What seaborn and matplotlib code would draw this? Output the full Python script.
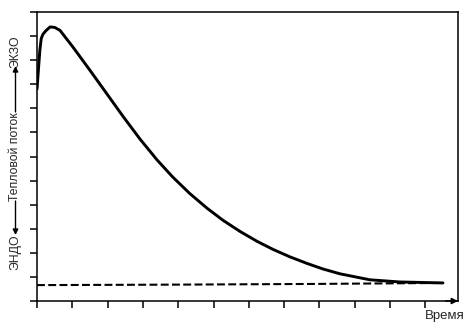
import matplotlib
matplotlib.use("Agg")
import matplotlib.pyplot as plt
import seaborn as sns
import pandas as pd

# Solid curve (heat flow)
heat_x = [0.0, 0.03, 0.08, 0.12, 0.17, 0.25, 0.37, 0.50, 0.65, 1.02, 1.50, 1.98, 2.44, 2.92,
          3.40, 3.85, 4.33, 4.82, 5.27, 5.75, 6.23, 6.69, 7.17, 7.65, 8.10, 8.58, 9.43,
          10.28, 11.5]
heat_y = [8.8, 9.4, 10.4, 10.9, 11.08, 11.22, 11.38, 11.36, 11.24, 10.54, 9.58, 8.60, 7.66, 6.72,
          5.86, 5.14, 4.46, 3.85, 3.35, 2.89, 2.48, 2.14, 1.83, 1.56, 1.33, 1.13, 0.88,
          0.79, 0.75]

# Dashed baseline
base_x = [0.0, 4.0, 8.0, 11.5]
base_y = [0.66, 0.68, 0.71, 0.75]

x_ticks = list(range(0, 12))
y_ticks = list(range(0, 13))

sns.set_theme(style="white")
plt.rcParams['font.family'] = ['Liberation Sans', 'DejaVu Sans']

fig = plt.figure(figsize=(4.66, 3.29), dpi=100)
ax = fig.add_axes([37/466, 1-301/329, (458-37)/466, (301-12)/329])

df_heat = pd.DataFrame({"x": heat_x, "y": heat_y})
df_base = pd.DataFrame({"x": base_x, "y": base_y})
sns.lineplot(data=df_heat, x="x", y="y", sort=False, estimator=None, ax=ax,
             color="black", lw=2.1)
sns.lineplot(data=df_base, x="x", y="y", sort=False, estimator=None, ax=ax,
             color="black", lw=1.5, dashes=False, linestyle=(0, (3.8, 1.6)))
for ln in ax.get_lines():
    ln.set_solid_joinstyle("round")
    ln.set_solid_capstyle("round")

xmax = (458-37)/35.3
ax.set_xlim(0, xmax)
ax.set_ylim(0, 12)
ax.set_xticks(x_ticks)
ax.set_yticks(y_ticks)
ax.set_xticklabels([])
ax.set_yticklabels([])
ax.set_xlabel("")
ax.set_ylabel("")
ax.tick_params(axis="both", direction="out", length=5, width=1.1, color="black",
               bottom=True, left=True, top=False, right=False)
for s in ax.spines.values():
    s.set_color("black")
    s.set_linewidth(1.1)

# arrow at end of time axis
ax.annotate("", xy=(xmax, 0), xytext=(xmax - 0.35, 0), xycoords="data",
            annotation_clip=False,
            arrowprops=dict(arrowstyle="-|>", color="black", lw=1.1,
                            mutation_scale=9, shrinkA=0, shrinkB=0))

fig.text(445/466, 1-316/329, "Время", ha="center", va="center", fontsize=9.5)

# y-axis label pieces
xl = 15.5/466
fs = 8.8
fig.text(xl, 1-51.5/329, "ЭКЗО", rotation=90, ha="center", va="center",
         rotation_mode="anchor", fontsize=fs)
fig.text(xl, 1-156.5/329, "Тепловой поток", rotation=90, ha="center", va="center",
         rotation_mode="anchor", fontsize=fs)
fig.text(xl, 1-252.5/329, "ЭНДО", rotation=90, ha="center", va="center",
         rotation_mode="anchor", fontsize=fs)
ap = dict(arrowstyle="-|>", color="black", lw=1.0, mutation_scale=8, shrinkA=0, shrinkB=0)
fig.add_artist(plt.Annotation("", xy=(xl, 1-66/329), xytext=(xl, 1-112/329),
                              xycoords="figure fraction", arrowprops=ap))
fig.add_artist(plt.Annotation("", xy=(xl, 1-235/329), xytext=(xl, 1-201/329),
                              xycoords="figure fraction", arrowprops=ap))

fig.savefig("out.png", dpi=100)
